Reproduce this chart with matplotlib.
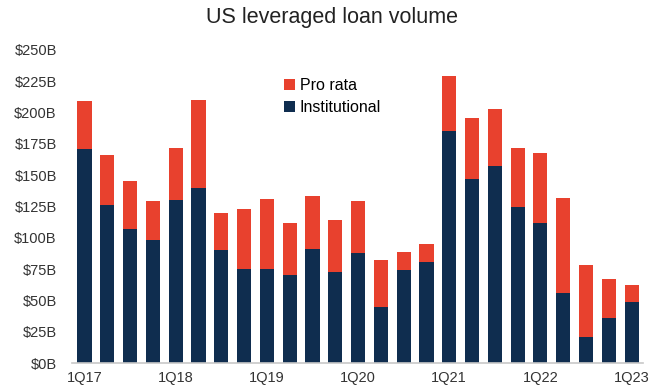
import matplotlib.pyplot as plt
import numpy as np

plt.rcParams["font.family"] = ["Liberation Sans", "DejaVu Sans"]

# quarterly volume, $B
quarters = [f"{q}Q{y}" for y in range(17, 24) for q in range(1, 5)][:25]
institutional = [171, 126, 107, 98, 130, 140, 90, 75, 75, 70, 91, 73, 88,
                 45, 74, 81, 185, 147, 157, 125, 112, 56, 21, 36, 49]
pro_rata = [38, 40, 38, 31, 42, 70, 30, 48, 56, 42, 42, 41, 41,
            37, 15, 14, 44, 49, 46, 47, 56, 76, 57, 31, 13]
shown_labels = ["1Q17", "1Q18", "1Q19", "1Q20", "1Q21", "1Q22", "1Q23"]
y_ticks = list(range(0, 251, 25))

NAVY = "#0F2D4F"
RED = "#E8412E"
TXT = "#333333"

fig = plt.figure(figsize=(6.63, 3.88), dpi=100)
ax = fig.add_axes([72 / 663, 25 / 388, 571 / 663, 313 / 388])

x = np.arange(len(quarters))
ax.bar(x, institutional, width=0.62, color=NAVY, label="Institutional")
ax.bar(x, pro_rata, width=0.62, bottom=institutional, color=RED, label="Pro rata")

ax.set_xlim(-0.55, 24.5)
ax.set_ylim(0, 250)
ax.set_yticks(y_ticks)
ax.set_yticklabels([f"${v}B" for v in y_ticks], fontsize=10.5, color=TXT)

tick_pos = [quarters.index(q) for q in shown_labels]
ax.set_xticks(tick_pos)
ax.set_xticklabels(shown_labels, fontsize=10.5, color=TXT)
ax.tick_params(axis="y", length=0, pad=11)
ax.tick_params(axis="x", length=0, pad=6)

for s in ["top", "right", "left"]:
    ax.spines[s].set_visible(False)
ax.spines["bottom"].set_color("#c8c8c8")
ax.spines["bottom"].set_linewidth(1.2)

h, l = ax.get_legend_handles_labels()
ax.legend(h[::-1], l[::-1], loc="upper left", bbox_to_anchor=(0.36, 0.93),
          frameon=False, fontsize=11.5, handlelength=0.7, handleheight=0.7,
          handletextpad=0.3, labelspacing=0.45, borderaxespad=0)

fig.text(0.5, 0.955, "US leveraged loan volume", ha="center", va="center",
         fontsize=15.5, color="#222222")

fig.savefig("out.png", dpi=100)
